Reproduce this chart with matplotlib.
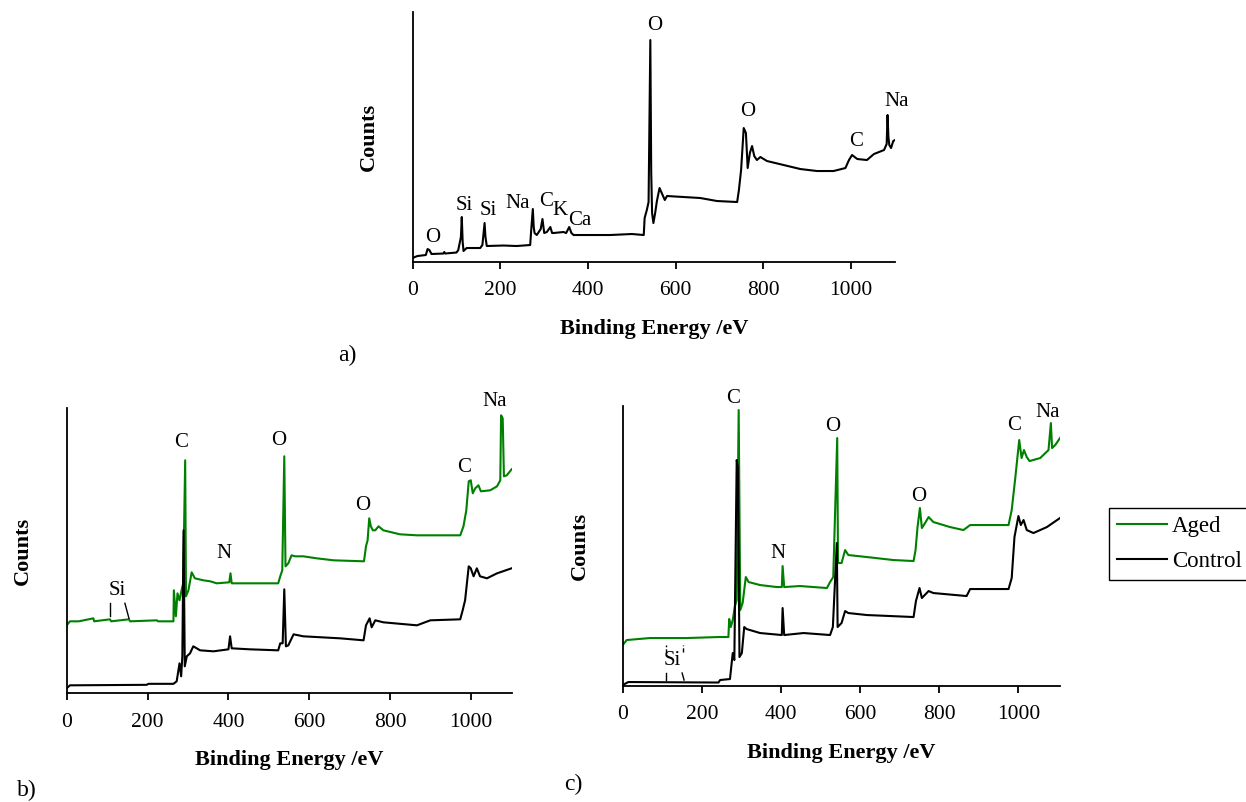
import matplotlib
matplotlib.use("Agg")
import matplotlib.pyplot as plt
from matplotlib.lines import Line2D

plt.rcParams['font.family'] = ['Liberation Serif', 'DejaVu Serif']

# ---- panel a: survey spectrum ----
be_a = [0, 5, 11, 30, 34, 38, 43, 70, 72, 74, 100, 104, 110, 112, 114, 116, 123, 154, 159, 164, 166, 169,
        207, 237, 268, 270, 274, 276, 278, 283, 292, 296, 300, 306, 314, 318, 321, 344, 350, 357, 362, 367,
        450, 500, 527, 529, 534, 538, 542, 544, 546, 549, 553, 557, 563, 568, 575, 580, 656, 694, 740, 744,
        749, 755, 760, 764, 769, 774, 779, 785, 793, 808, 846, 884, 922, 960, 987, 995, 1002, 1014, 1036,
        1052, 1075, 1081, 1083, 1085, 1087, 1091, 1096, 1100]
counts_a = [4, 5, 6, 7, 13, 12, 8, 8.5, 10, 8.5, 9.5, 12, 25, 45, 20, 11, 14, 14, 17, 39, 25, 16,
            16.5, 16, 17, 30, 53, 35, 29, 27, 33, 43, 29, 30, 35, 29, 29, 30, 29, 35, 29, 27,
            27, 28, 27, 44, 52, 60, 222, 90, 49, 39, 49, 61, 74, 69, 62, 66, 64, 61, 60, 72,
            92, 134, 129, 94, 109, 116, 106, 102, 105, 101, 97, 93, 91, 91, 94, 102, 107, 103, 102,
            108, 112, 118, 147, 125, 117, 114, 121, 122]
labels_a = ["O", "Si", "Si", "Na", "C", "K", "Ca", "O", "O", "C", "Na"]
lab_x_a = [46, 118, 173, 239, 304, 336, 382, 551, 763, 1012, 1103]
lab_y_a = [25, 57, 52, 59, 61, 52, 42, 237, 151, 121, 161]

# ---- panel b ----
be_b_aged = [0, 8, 30, 66, 68, 107, 110, 154, 157, 223, 226, 264, 265, 270, 274, 279, 284, 288, 293, 295,
             301, 309, 317, 338, 355, 371, 402, 405, 408, 470, 523, 528, 533, 538, 541, 548, 556, 565, 585,
             618, 660, 735, 740, 744, 748, 752, 757, 763, 771, 783, 824, 866, 973, 981, 988, 994, 999, 1004,
             1010, 1018, 1024, 1047, 1064, 1072, 1074, 1078, 1081, 1088, 1100]
counts_b_aged = [68, 72, 72, 75, 72, 74, 72, 74, 72, 73, 72, 72, 103, 77, 100, 93, 103, 110, 233, 97,
                 103, 121, 115, 113, 112, 110, 111, 120, 110, 110, 110, 117, 123, 237, 127, 130, 138, 137, 137,
                 135, 133, 132, 147, 153, 175, 167, 163, 163, 167, 163, 159, 158, 158, 167, 183, 212, 213, 200,
                 205, 208, 202, 203, 207, 213, 278, 275, 217, 218, 224]
be_b_ctrl = [0, 8, 198, 202, 264, 272, 279, 283, 286, 289, 292, 297, 305, 313, 330, 363, 400, 404, 408, 453,
             523, 528, 534, 538, 542, 548, 561, 585, 676, 734, 740, 749, 754, 763, 783, 866, 899, 973, 979,
             985, 994, 999, 1006, 1014, 1022, 1039, 1064, 1100]
counts_b_ctrl = [5, 8, 8.5, 9.5, 9.5, 12, 30, 17, 37, 163, 27, 37, 40, 47, 43, 42, 44, 57, 45, 44,
                 43, 50, 50, 104, 47, 48, 59, 57, 55, 53, 68, 75, 66, 73, 71, 68, 73, 74, 83,
                 93, 127, 125, 117, 125, 117, 115, 120, 125]
labels_b = ["Si", "C", "N", "O", "O", "C", "Na"]
lab_x_b = [124, 284, 389, 523, 731, 983, 1057]
lab_y_b = [103, 251, 140, 253, 188, 226, 292]

# ---- panel c ----
be_c_aged = [0, 10, 69, 110, 162, 242, 267, 269, 273, 278, 283, 288, 293, 297, 303, 311, 318, 347, 389, 402,
             404, 408, 448, 516, 524, 532, 542, 544, 553, 562, 570, 617, 684, 735, 740, 745, 751, 756, 764,
             773, 785, 827, 861, 878, 975, 983, 992, 1002, 1008, 1014, 1021, 1028, 1055, 1076, 1082, 1085,
             1093, 1105]
counts_c_aged = [41, 46, 48, 48, 48, 49, 49, 67, 59, 66, 79, 86, 276, 76, 83, 109, 104, 101, 99, 99,
                 120, 99, 100, 98, 104, 109, 248, 123, 123, 136, 131, 129, 126, 125, 136, 159, 178, 158, 163,
                 169, 164, 159, 156, 161, 161, 176, 208, 246, 228, 236, 229, 225, 228, 236, 263, 238,
                 241, 248]
be_c_ctrl = [0, 14, 242, 246, 271, 278, 282, 288, 291, 295, 301, 307, 313, 347, 402, 404, 408, 457, 524, 531,
             541, 543, 553, 562, 570, 617, 735, 741, 750, 756, 773, 785, 869, 878, 975, 983, 990, 1000, 1006,
             1013, 1021, 1038, 1072, 1105]
counts_c_ctrl = [1, 4, 3.5, 6, 7, 33, 26, 226, 219, 29, 33, 59, 57, 53, 51, 78, 51, 53, 51, 59,
                 143, 59, 63, 75, 73, 71, 69, 85, 98, 88, 95, 93, 90, 97, 97, 108, 149, 170, 161,
                 166, 156, 153, 159, 168]
labels_c = ["Si", "C", "N", "O", "O", "C", "Na"]
lab_x_c = [126, 280, 393, 530, 747, 990, 1074]
lab_y_c = [26, 288, 133, 260, 190, 261, 274]

series_names = ["Aged", "Control"]
aged_color = "#008000"

fig = plt.figure(figsize=(12.46, 8.02), dpi=100)
ax_a = fig.add_axes([0.3312, 0.6733, 0.3871, 0.3117])
ax_b = fig.add_axes([0.0535, 0.1355, 0.3571, 0.3554])
ax_c = fig.add_axes([0.4998, 0.1446, 0.3509, 0.3491])


def style(ax, xmax, ymax):
    ax.set_xlim(0, xmax)
    ax.set_ylim(0, ymax)
    for s in ["top", "right"]:
        ax.spines[s].set_visible(False)
    for s in ["left", "bottom"]:
        ax.spines[s].set_linewidth(1.3)
    ax.set_yticks([])
    ax.set_xticks([0, 200, 400, 600, 800, 1000])
    ax.tick_params(axis="x", direction="out", length=5, width=1.3, labelsize=15.5, pad=9)
    ax.set_xlabel("Binding Energy /eV", fontsize=16, fontweight="bold", labelpad=13)
    ax.set_ylabel("Counts", fontsize=16, fontweight="bold", labelpad=24)


ax_a.plot(be_a, counts_a, color="black", lw=1.5)
style(ax_a, 1100, 250)
for t, x, y in zip(labels_a, lab_x_a, lab_y_a):
    ax_a.text(x, y, t, ha="center", va="center", fontsize=15)

ax_b.plot(be_b_aged, counts_b_aged, color=aged_color, lw=1.5)
ax_b.plot(be_b_ctrl, counts_b_ctrl, color="black", lw=1.5)
style(ax_b, 1100, 285)
for t, x, y in zip(labels_b, lab_x_b, lab_y_b):
    ax_b.text(x, y, t, ha="center", va="center", fontsize=15)
# Si marker strokes
ax_b.plot([107, 107], [77, 90], color="black", lw=1)
ax_b.plot([144, 154], [90, 75], color="black", lw=1)

ax_c.plot(be_c_aged, counts_c_aged, color=aged_color, lw=1.5)
ax_c.plot(be_c_ctrl, counts_c_ctrl, color="black", lw=1.5)
style(ax_c, 1105, 280)
for t, x, y in zip(labels_c, lab_x_c, lab_y_c):
    ax_c.text(x, y, t, ha="center", va="center", fontsize=15, clip_on=False)
ax_c.plot([110, 110], [33, 41], color="black", lw=1, ls=(0, (3, 1.5)))
ax_c.plot([152, 152], [34, 41], color="black", lw=1, ls=(0, (3, 1.5)))
ax_c.plot([110, 110], [6, 13], color="black", lw=1)
ax_c.plot([150, 155], [13, 6], color="black", lw=1)

# legend
handles = [Line2D([], [], color=aged_color, lw=1.5), Line2D([], [], color="black", lw=1.5)]
fig.legend(handles, series_names, loc="upper left", bbox_to_anchor=(1109 / 1246, 1 - 508 / 802),
           fontsize=16.5, frameon=True, fancybox=False, edgecolor="black", framealpha=1,
           handlelength=2.2, handletextpad=0.2, labelspacing=0.6, borderpad=0.35, borderaxespad=0)

fig.text(347 / 1246, 1 - 355 / 802, "a)", fontsize=17, ha="center", va="center")
fig.text(27 / 1246, 1 - 790 / 802, "b)", fontsize=17, ha="center", va="center")
fig.text(573 / 1246, 1 - 784 / 802, "c)", fontsize=17, ha="center", va="center")

fig.savefig("out.png", dpi=100)
